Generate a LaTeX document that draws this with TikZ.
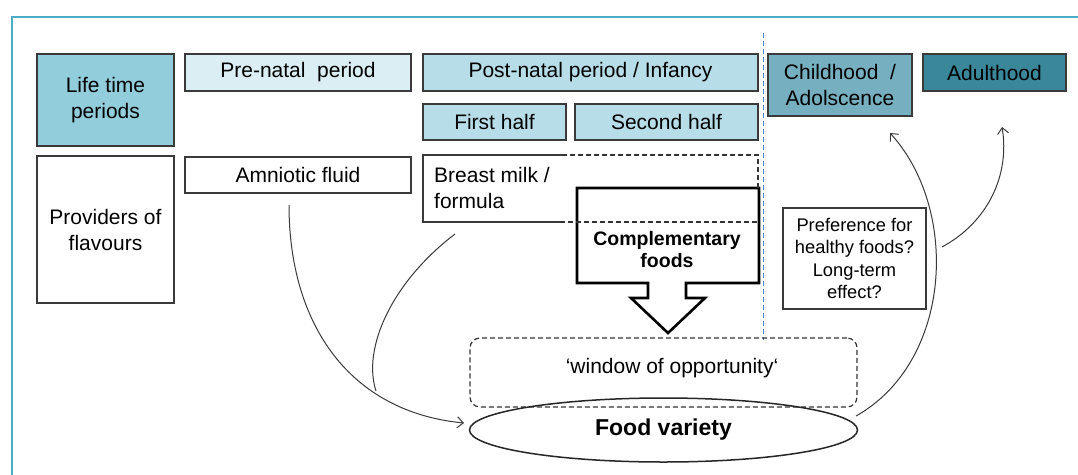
\documentclass[tikz,border=0pt]{standalone}
\usepackage{fontspec}
\setmainfont{Liberation Sans}
\usetikzlibrary{arrows.meta,shapes.geometric}
\definecolor{frameblue}{HTML}{4BACC6}
\definecolor{lifec}{HTML}{92CDDC}
\definecolor{prec}{HTML}{DAEEF3}
\definecolor{postc}{HTML}{B7DEE8}
\definecolor{childc}{HTML}{76AFBF}
\definecolor{adultc}{HTML}{3A8799}
\definecolor{vline}{HTML}{4F81D0}
\definecolor{edge}{HTML}{3A3A3A}
\begin{document}
\begin{tikzpicture}[x=1pt,y=-1pt,
  font=\fontsize{21}{26}\selectfont,
  box/.style={draw=edge, line width=1.2pt, inner sep=0pt, align=center},
  flow/.style={draw=edge, line width=1pt, -{Straight Barb[length=6pt,width=11pt]}},
  plain/.style={draw=edge, line width=1pt},
  dashline/.style={draw=black!80, line width=1.2pt, dash pattern=on 5pt off 3pt}]
\useasboundingbox (0,0) rectangle (1078,474);
\fill[white] (0,0) rectangle (1078,474);
\draw[frameblue, line width=2.5pt] (12,490) -- (12,17) -- (1095,17);

% vertical separator
\coordinate (vtop) at (763,33);
\coordinate (vbot) at (763,340);
\draw[vline, line width=1pt, dash pattern=on 5pt off 3pt] (vtop) -- (vbot);

% header row
\node[box, fill=lifec, minimum width=137pt, minimum height=92pt] (life) at (105.5,100) {Life time\\periods};
\node[box, fill=prec, minimum width=226pt, minimum height=37pt] (pre) at (298,72.5) {Pre-natal\ \ period};
\node[box, fill=postc, minimum width=335pt, minimum height=37pt] (post) at (590.5,72.5) {Post-natal period / Infancy};
\node[box, fill=postc, minimum width=143pt, minimum height=36pt] (first) at (494.5,122) {First half};
\node[box, fill=postc, minimum width=183pt, minimum height=36pt] (second) at (666.5,122) {Second half};
\node[box, fill=childc, minimum width=144pt, minimum height=62pt] (child) at (840,85) {Childhood~\ /\\Adolscence};
\node[box, fill=adultc, minimum width=143pt, minimum height=37pt] (adult) at (994.5,72.5) {Adulthood};

% providers row
\node[box, minimum width=137pt, minimum height=147pt] (prov) at (105.5,229.5) {Providers of\\flavours};
\node[box, minimum width=226pt, minimum height=36pt] (amn) at (298,175) {Amniotic fluid};

% breast milk box (solid left part, dashed right part)
\draw[draw=edge, line width=1.2pt] (562,155) -- (423,155) -- (423,222) -- (560,222);
\node[inner sep=0pt, anchor=west, align=left] (bm) at (434,188) {Breast milk /\\formula};

% complementary foods arrow
\draw[black, line width=2.6pt, fill=white, line join=miter]
  (577,188) -- (759,188) -- (759,283) -- (686,283) -- (686,298) -- (705,298)
  -- (668,333) -- (631,298) -- (648,298) -- (648,283) -- (577,283) -- cycle;
\node[inner sep=0pt, align=center, font=\fontsize{19.5}{22.5}\selectfont\bfseries] (comp) at (667,249.5) {Complementary\\foods};
\draw[dashline] (562,155) -- (758,155) -- (758,188);
\draw[dashline] (560,222) -- (758,222);

% window of opportunity and food variety
\node[draw=black!80, line width=1.2pt, dash pattern=on 5pt off 3pt, rounded corners=10pt,
  minimum width=387pt, minimum height=69pt, inner sep=0pt] (win) at (663.5,372.5) {};
\node[inner sep=0pt] (wintext) at (672,368) {`window of opportunity`};
\node[draw=black!85, line width=1.5pt, ellipse, minimum width=388pt, minimum height=64pt, inner sep=0pt,
  font=\fontsize{23}{26}\selectfont\bfseries] (food) at (663.5,430) {Food variety};

% preference box
\node[box, minimum width=143pt, minimum height=101pt, font=\fontsize{18.3}{22.5}\selectfont] (pref) at (854.5,258.5)
  {Preference for\\healthy foods?\\Long-term\\effect?};

% connectors
\coordinate (amnout) at (289,205);
\coordinate (bmout) at (455,234);
\coordinate (merge) at (376,391);
\coordinate (foodin) at (464,423);
\coordinate (foodout) at (856,416);
\coordinate (childin) at (890,133);
\coordinate (branch) at (942,247);
\coordinate (adultin) at (1002,127);
\draw[flow] (amnout) .. controls (289,325) and (350,412) .. (foodin);
\draw[plain] (bmout) .. controls (392,282) and (362,348) .. (merge);
\draw[flow] (foodout) .. controls (952,362) and (960,210) .. (childin);
\draw[flow] (branch) .. controls (988,222) and (1010,175) .. (adultin);
\end{tikzpicture}
\end{document}
